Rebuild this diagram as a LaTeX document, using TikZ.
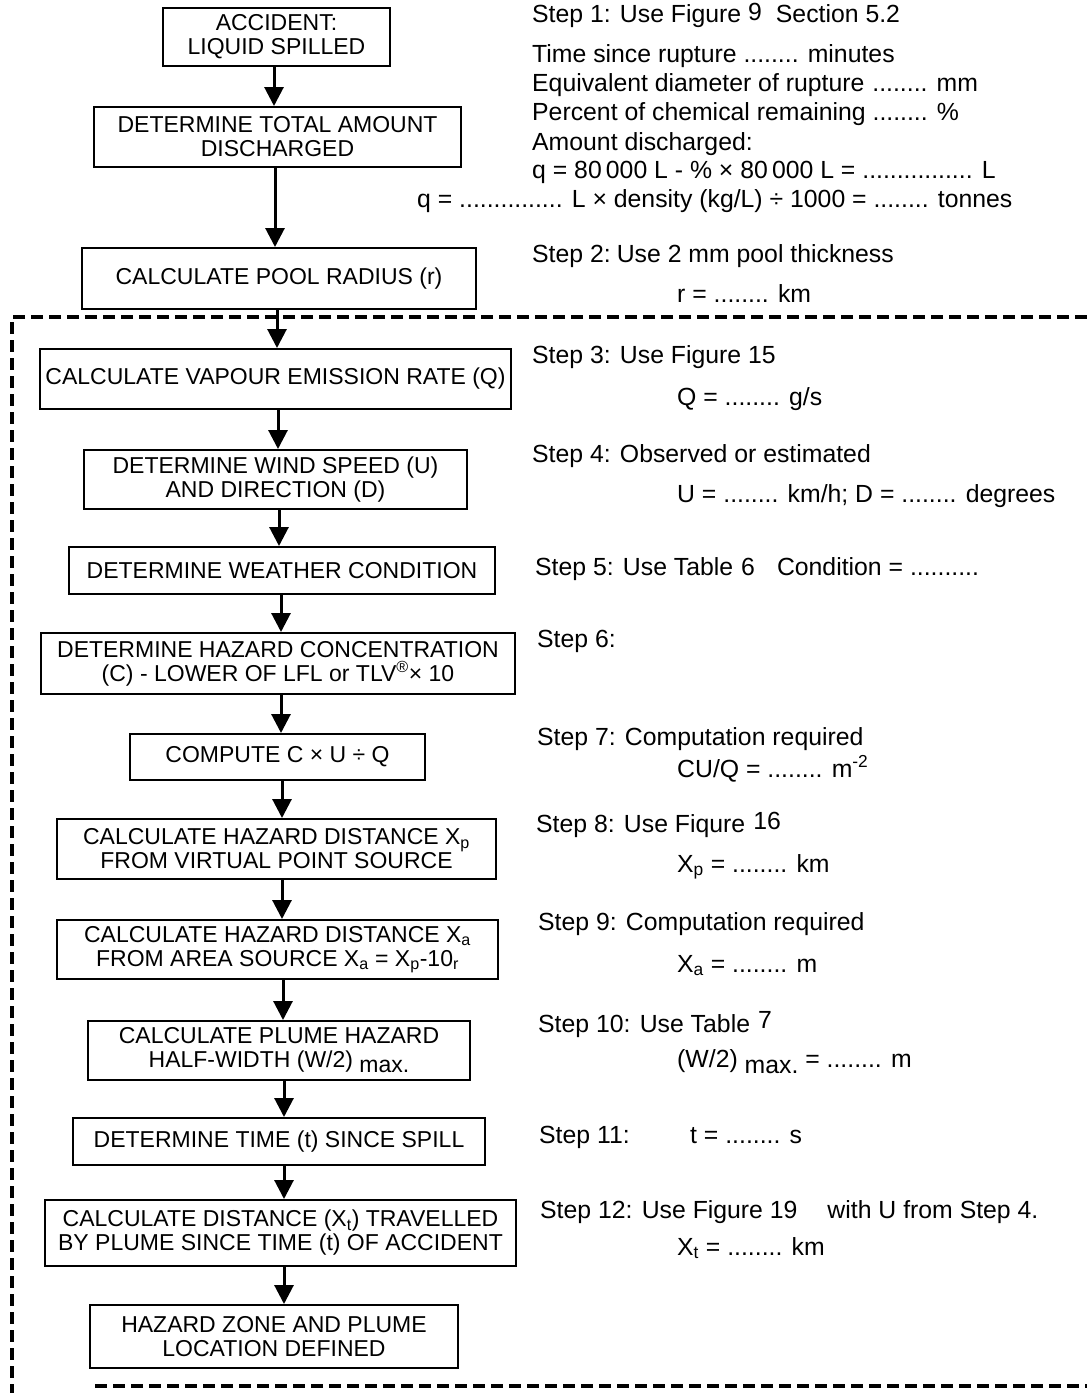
\documentclass[tikz,border=0pt]{standalone}
\usepackage{fontspec}
\setmainfont{Liberation Sans}
\usepackage{tikz}
\usetikzlibrary{arrows.meta,positioning}

\tikzset{
    flowbox/.style={draw, line width=2pt, align=center, inner sep=0pt,
        font=\fontsize{23}{24}\selectfont},
    note/.style={anchor=base west, inner sep=0pt,
        font=\fontsize{24.8}{29}\selectfont},
    flow/.style={line width=3pt, -{Triangle[width=19pt,length=19pt]}},
    zone/.style={line width=3.5pt, dash pattern=on 12pt off 6pt}
}

\begin{document}
\begin{tikzpicture}[x=1pt,y=-1pt]
    \useasboundingbox (0,0) rectangle (1087,1393);

    % Boxes
    \node[flowbox, minimum width=227, minimum height=58] (spill) at (276.5,37) {ACCIDENT:\\LIQUID SPILLED};
    \node[flowbox, minimum width=367, minimum height=60] (total) at (277.5,137) {DETERMINE TOTAL AMOUNT\\DISCHARGED};
    \node[flowbox, minimum width=394, minimum height=61] (pool) at (279,278.5) {CALCULATE POOL RADIUS (r)};
    \node[flowbox, minimum width=471, minimum height=60] (vapour) at (275.5,379) {CALCULATE VAPOUR EMISSION RATE (Q)};
    \node[flowbox, minimum width=383, minimum height=59] (wind) at (275.5,479.5) {DETERMINE WIND SPEED (U)\\AND DIRECTION (D)};
    \node[flowbox, minimum width=426, minimum height=47] (weather) at (282,570.5) {DETERMINE WEATHER CONDITION};
    \node[flowbox, minimum width=474, minimum height=61] (conc) at (278,663.5) {DETERMINE HAZARD CONCENTRATION\\(C) - LOWER OF LFL or TLV\textsuperscript{®}× 10};
    \node[flowbox, minimum width=295, minimum height=46] (cuq) at (277.5,757) {COMPUTE C × U ÷ Q};
    \node[flowbox, minimum width=439, minimum height=60] (xp) at (276.5,849) {CALCULATE HAZARD DISTANCE X\textsubscript{p}\\FROM VIRTUAL POINT SOURCE};
    \node[flowbox, minimum width=441, minimum height=59] (xa) at (277.5,949.5) {CALCULATE HAZARD DISTANCE X\textsubscript{a}\\FROM AREA SOURCE X\textsubscript{a} = X\textsubscript{p}-10\textsubscript{r}};
    \node[flowbox, minimum width=382, minimum height=59] (half) at (279,1050.5) {CALCULATE PLUME HAZARD\\HALF-WIDTH (W/2) \raisebox{-5pt}{max.}};
    \node[flowbox, minimum width=412, minimum height=47] (time) at (279,1141.5) {DETERMINE TIME (t) SINCE SPILL};
    \node[flowbox, minimum width=471, minimum height=66] (dist) at (280.5,1233) {CALCULATE DISTANCE (X\textsubscript{t}) TRAVELLED\\BY PLUME SINCE TIME (t) OF ACCIDENT};
    \node[flowbox, minimum width=368, minimum height=63] (zone) at (274,1336.5) {HAZARD ZONE AND PLUME\\LOCATION DEFINED};

    % Arrows
    \foreach \a/\b/\x in {spill/total/274, total/pool/275, pool/vapour/277,
        vapour/wind/278, wind/weather/279, weather/conc/281, conc/cuq/281,
        cuq/xp/282, xp/xa/282, xa/half/283, half/time/284, time/dist/284,
        dist/zone/284} {
        \draw[flow] (\a.south -| \x,0) -- (\b.north -| \x,0);
    }

    % Dashed frame
    \draw[zone] (1087,317) -- (12,317) -- (12,1393);
    \draw[zone] (95,1386) -- (1087,1386);

    % Steps
    \node[note] (s1) at (532,22) {Step 1: Use Figure \raisebox{2pt}{9}\hspace{14pt}Section 5.2};
    \node[note] (s1a) at (532,62) {Time since rupture ........ minutes};
    \node[note] (s1b) at (532,91) {Equivalent diameter of rupture\hspace{8pt}........ mm};
    \node[note] (s1c) at (532,120) {Percent of chemical remaining ........ \%};
    \node[note] (s1d) at (532,150) {Amount discharged:};
    \node[note] (s1e) at (532,178) {q = 80\,000 L - \% × 80\,000 L = ................ L};
    \node[note] (s1f) at (417,207) {q = ............... L × density (kg/L) ÷ 1000 = ........ tonnes};
    \node[note] (s2) at (532,262) {Step 2:\hspace{6pt}Use 2 mm pool thickness};
    \node[note] (s2a) at (677,302) {r = ........ km};
    \node[note] (s3) at (532,363) {Step 3: Use Figure 15};
    \node[note] (s3a) at (677,405) {Q = ........ g/s};
    \node[note] (s4) at (532,462) {Step 4: Observed or estimated};
    \node[note] (s4a) at (677,502) {U = ........ km/h; D = ........ degrees};
    \node[note] (s5) at (535,575) {Step 5: Use Table\hspace{8pt}6\hspace{22pt}Condition = ..........};
    \node[note] (s6) at (537,647) {Step 6:};
    \node[note] (s7) at (537,745) {Step 7: Computation required};
    \node[note] (s7a) at (677,777) {CU/Q = ........ m\textsuperscript{-2}};
    \node[note] (s8) at (536,832) {Step 8: Use Fiqure\hspace{8pt}\raisebox{3pt}{16}};
    \node[note] (s8a) at (677,872) {X\textsubscript{p} = ........ km};
    \node[note] (s9) at (538,930) {Step 9: Computation required};
    \node[note] (s9a) at (677,972) {X\textsubscript{a} = ........ m};
    \node[note] (s10) at (538,1032) {Step 10: Use Table\hspace{8pt}\raisebox{4pt}{7}};
    \node[note] (s10a) at (677,1067) {(W/2) \raisebox{-6pt}{max.} = ........ m};
    \node[note] (s11) at (539,1143) {Step 11:};
    \node[note] (s11a) at (690,1143) {t = ........ s};
    \node[note] (s12) at (540,1218) {Step 12: Use Figure 19\hspace{30pt}with U from Step 4.};
    \node[note] (s12a) at (677,1255) {X\textsubscript{t} = ........ km};

\end{tikzpicture}
\end{document}
